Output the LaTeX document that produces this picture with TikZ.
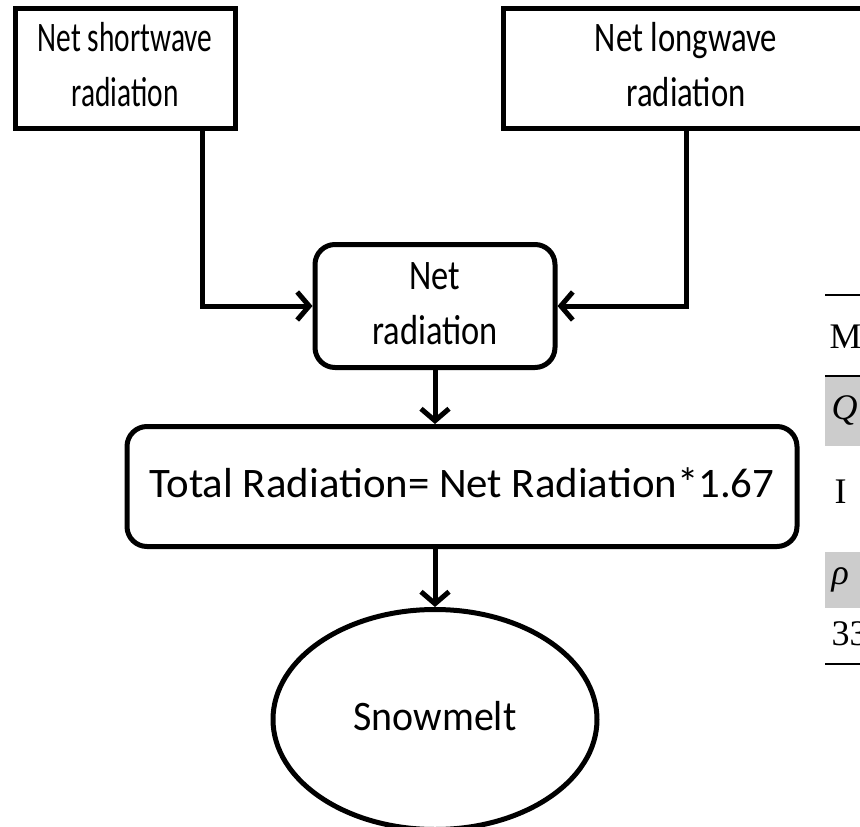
\documentclass[tikz,border=0pt]{standalone}
\usepackage{fontspec}
\setmainfont{Carlito}
\newfontfamily\tabfont{Liberation Serif}
\usetikzlibrary{positioning, shapes.geometric, arrows.meta}
% text of a box, squeezed sideways
\newcommand{\squeezed}[2]{\scalebox{#1}[1]{\begin{tabular}{@{}c@{}}#2\end{tabular}}}
\tikzset{
    >={Straight Barb[length=12pt,width=28pt]}, % open arrow heads
    every node/.style={font=\fontsize{42}{55}\selectfont}, % text of all boxes
    inputbox/.style={draw, line width=5pt, minimum width=220pt, minimum height=120pt, inner sep=0pt},
    stepbox/.style={draw, line width=5pt, rounded corners=20pt, inner sep=0pt},
    endbox/.style={draw, ellipse, line width=5pt, minimum width=324pt, minimum height=220pt, inner sep=0pt},
    tabcell/.style={anchor=west, inner sep=0pt, font=\tabfont\fontsize{36}{40}\selectfont},
}
\begin{document}
\begin{tikzpicture}[x=1pt, y=-1pt, line width=5pt]
    \useasboundingbox (0,0) rectangle (860,827);
    \clip (0,0) rectangle (860,827);

    % inputs
    \node[inputbox] (shortwave) at (125,68) {\squeezed{0.7}{Net shortwave\\radiation}};
    \node[inputbox, minimum width=366pt, right=263pt of shortwave] (longwave) {\squeezed{0.78}{Net longwave\\radiation}};

    % steps
    \node[stepbox, minimum width=240pt, minimum height=123pt] (net) at (435,306) {\squeezed{0.82}{Net\\radiation}};
    \node[stepbox, minimum width=670pt, minimum height=120pt, below=54pt of net, xshift=27pt] (total) {\squeezed{1.02}{Total Radiation= Net Radiation*1.67}};
    \node[endbox, below=58pt of total, xshift=-27pt] (snow) {\squeezed{0.95}{Snowmelt}};

    \draw[->] ([xshift=77pt]shortwave.south) |- (net.west);
    \draw[->] (longwave.south) |- (net.east);
    \draw[->] (net.south) -- (net.south |- total.north);
    \draw[->] (snow |- total.south) -- (snow.north);

    % part of a table, cut by the right edge
    \fill[gray!40] (825,376) rectangle (870,446);
    \fill[gray!40] (825,552) rectangle (870,608);
    \draw[line width=1.5pt] (825,295) -- (870,295) (825,376) -- (870,376) (825,664) -- (870,664);
    \node[tabcell] (tabM) at (827,337) {M};
    \node[tabcell] (tabQ) at (829,410) {\itshape Q};
    \node[tabcell] (tabI) at (832,492) {I};
    \node[tabcell] (tabrho) at (829,580) {\itshape ρ};
    \node[tabcell] (tab33) at (829,634) {33};
\end{tikzpicture}
\end{document}
